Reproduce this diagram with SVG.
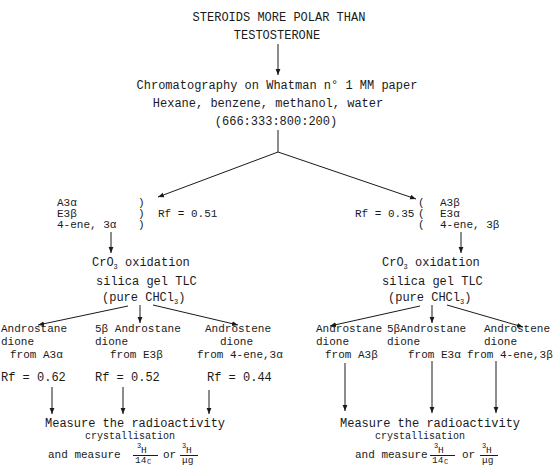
<svg xmlns="http://www.w3.org/2000/svg" width="555" height="466" viewBox="0 0 555 466">
<defs>
<marker id="ah" viewBox="0 0 10 10" refX="10" refY="5" markerWidth="6" markerHeight="6" orient="auto" markerUnits="userSpaceOnUse"><path d="M0,1 L10,5 L0,9 z" fill="#1a1a1a"/></marker>
</defs>
<style>
text{font-family:"Liberation Mono","DejaVu Sans Mono",monospace;font-size:12px;fill:#1a1a1a}
.c{text-anchor:middle}
.g{font-size:11px}
.b{font-size:11px}
.s{font-size:7px}
.m{font-size:10px}
.f{font-size:9.5px}
.l{stroke:#1a1a1a;stroke-width:1;fill:none}
.a{marker-end:url(#ah)}
</style>
<rect width="555" height="466" fill="#fff"/>
<g id="connectors">
<line class="l a" x1="278" y1="44" x2="278" y2="75"/>
<line class="l" x1="278" y1="130" x2="278" y2="152"/>
<line class="l a" x1="278" y1="152" x2="158" y2="197"/>
<line class="l a" x1="278" y1="152" x2="416" y2="199"/>
<line class="l a" x1="111" y1="232" x2="111" y2="253"/>
<line class="l a" x1="461" y1="232" x2="461" y2="253"/>
<line class="l a" x1="128" y1="306" x2="38" y2="325"/>
<line class="l a" x1="140" y1="305" x2="140" y2="323"/>
<line class="l a" x1="153" y1="305" x2="238" y2="325"/>
<line class="l a" x1="420" y1="306" x2="330" y2="326"/>
<line class="l a" x1="432" y1="305" x2="432" y2="323"/>
<line class="l a" x1="447" y1="305" x2="523" y2="327"/>
<line class="l a" x1="52" y1="387" x2="52" y2="414"/>
<line class="l a" x1="123" y1="387" x2="123" y2="414"/>
<line class="l a" x1="209" y1="390" x2="209" y2="414"/>
<line class="l a" x1="345" y1="363" x2="345" y2="411"/>
<line class="l a" x1="432" y1="361" x2="432" y2="413"/>
<line class="l a" x1="496" y1="361" x2="496" y2="413"/>
</g>
<g id="n-start">
<text class="c" x="279" y="21">STEROIDS MORE POLAR THAN</text>
<text class="c" x="277" y="39">TESTOSTERONE</text>
</g>
<g id="n-chromatography">
<text class="c" x="277" y="89">Chromatography on Whatman n° 1 MM paper</text>
<text class="c" x="268" y="107">Hexane, benzene, methanol, water</text>
<text class="c" x="276" y="125">(666:333:800:200)</text>
</g>
<g id="n-left-group">
<text class="g" x="57" y="206">A3α</text><text class="g" x="138" y="206">)</text>
<text class="g" x="57" y="217">E3β</text><text class="g" x="138" y="217">)</text><text class="g" x="158" y="217">Rf = 0.51</text>
<text class="g" x="57" y="228">4-ene, 3α</text><text class="g" x="138" y="228">)</text>
</g>
<g id="n-right-group">
<text class="g" x="418" y="206">(</text><text class="g" x="440" y="206">A3β</text>
<text class="g" x="355" y="217">Rf = 0.35</text><text class="g" x="418" y="217">(</text><text class="g" x="440" y="217">E3α</text>
<text class="g" x="418" y="228">(</text><text class="g" x="440" y="228">4-ene, 3β</text>
</g>
<g id="n-left-oxidation">
<text x="92" y="266">CrO<tspan class="s" dy="3">3</tspan><tspan dy="-3"> oxidation</tspan></text>
<text x="96" y="285">silica gel TLC</text>
<text x="102" y="301">(pure CHCl<tspan class="s" dy="3">3</tspan><tspan dy="-3">)</tspan></text>
</g>
<g id="n-right-oxidation">
<text x="382" y="266">CrO<tspan class="s" dy="3">3</tspan><tspan dy="-3"> oxidation</tspan></text>
<text x="382" y="285">silica gel TLC</text>
<text x="388" y="301">(pure CHCl<tspan class="s" dy="3">3</tspan><tspan dy="-3">)</tspan></text>
</g>
<g id="n-l1">
<text class="b" x="1" y="332">Androstane</text><text class="b" x="1" y="345">dione</text><text class="b" x="10" y="358">from A3α</text><text x="1" y="381">Rf = 0.62</text>
</g>
<g id="n-l2">
<text class="b" x="95" y="332">5β Androstane</text><text class="b" x="95" y="345">dione</text><text class="b" x="110" y="358">from E3β</text><text x="95" y="381">Rf = 0.52</text>
</g>
<g id="n-l3">
<text class="b" x="205" y="332">Androstene</text><text class="b" x="220" y="345">dione</text><text class="b" x="197" y="358">from 4-ene,3α</text><text x="207" y="381">Rf = 0.44</text>
</g>
<g id="n-r1">
<text class="b" x="316" y="332">Androstane</text><text class="b" x="316" y="345">dione</text><text class="b" x="325" y="358">from A3β</text>
</g>
<g id="n-r2">
<text class="b" x="387" y="332">5βAndrostane</text><text class="b" x="387" y="345">dione</text><text class="b" x="408" y="358">from E3α</text>
</g>
<g id="n-r3">
<text class="b" x="484" y="332">Androstene</text><text class="b" x="484" y="345">dione</text><text class="b" x="467" y="358">from 4-ene,3β</text>
</g>
<g id="n-left-measure">
<text x="45" y="427">Measure the radioactivity</text>
<text class="m" x="85" y="439">crystallisation</text>
<text class="b" x="48" y="458">and measure</text>
<text class="s" x="137" y="448">3</text><text class="f" x="141" y="453">H</text>
<line class="l" x1="133" y1="455.5" x2="158" y2="455.5"/>
<text class="f" x="135" y="463">14</text><text class="s" x="147" y="464">C</text>
<text class="b" x="163" y="458">or</text>
<text class="s" x="182" y="448">3</text><text class="f" x="186" y="453">H</text>
<line class="l" x1="180" y1="455.5" x2="198" y2="455.5"/>
<text class="f" x="182" y="463">μg</text>
</g>
<g id="n-right-measure">
<text x="340" y="427">Measure the radioactivity</text>
<text class="m" x="375" y="439">crystallisation</text>
<text class="b" x="355" y="458">and measure</text>
<text class="s" x="434" y="448">3</text><text class="f" x="438" y="453">H</text>
<line class="l" x1="430" y1="455.5" x2="455" y2="455.5"/>
<text class="f" x="432" y="463">14</text><text class="s" x="444" y="464">C</text>
<text class="b" x="462" y="458">or</text>
<text class="s" x="482" y="448">3</text><text class="f" x="486" y="453">H</text>
<line class="l" x1="480" y1="455.5" x2="498" y2="455.5"/>
<text class="f" x="482" y="463">μg</text>
</g>
</svg>
